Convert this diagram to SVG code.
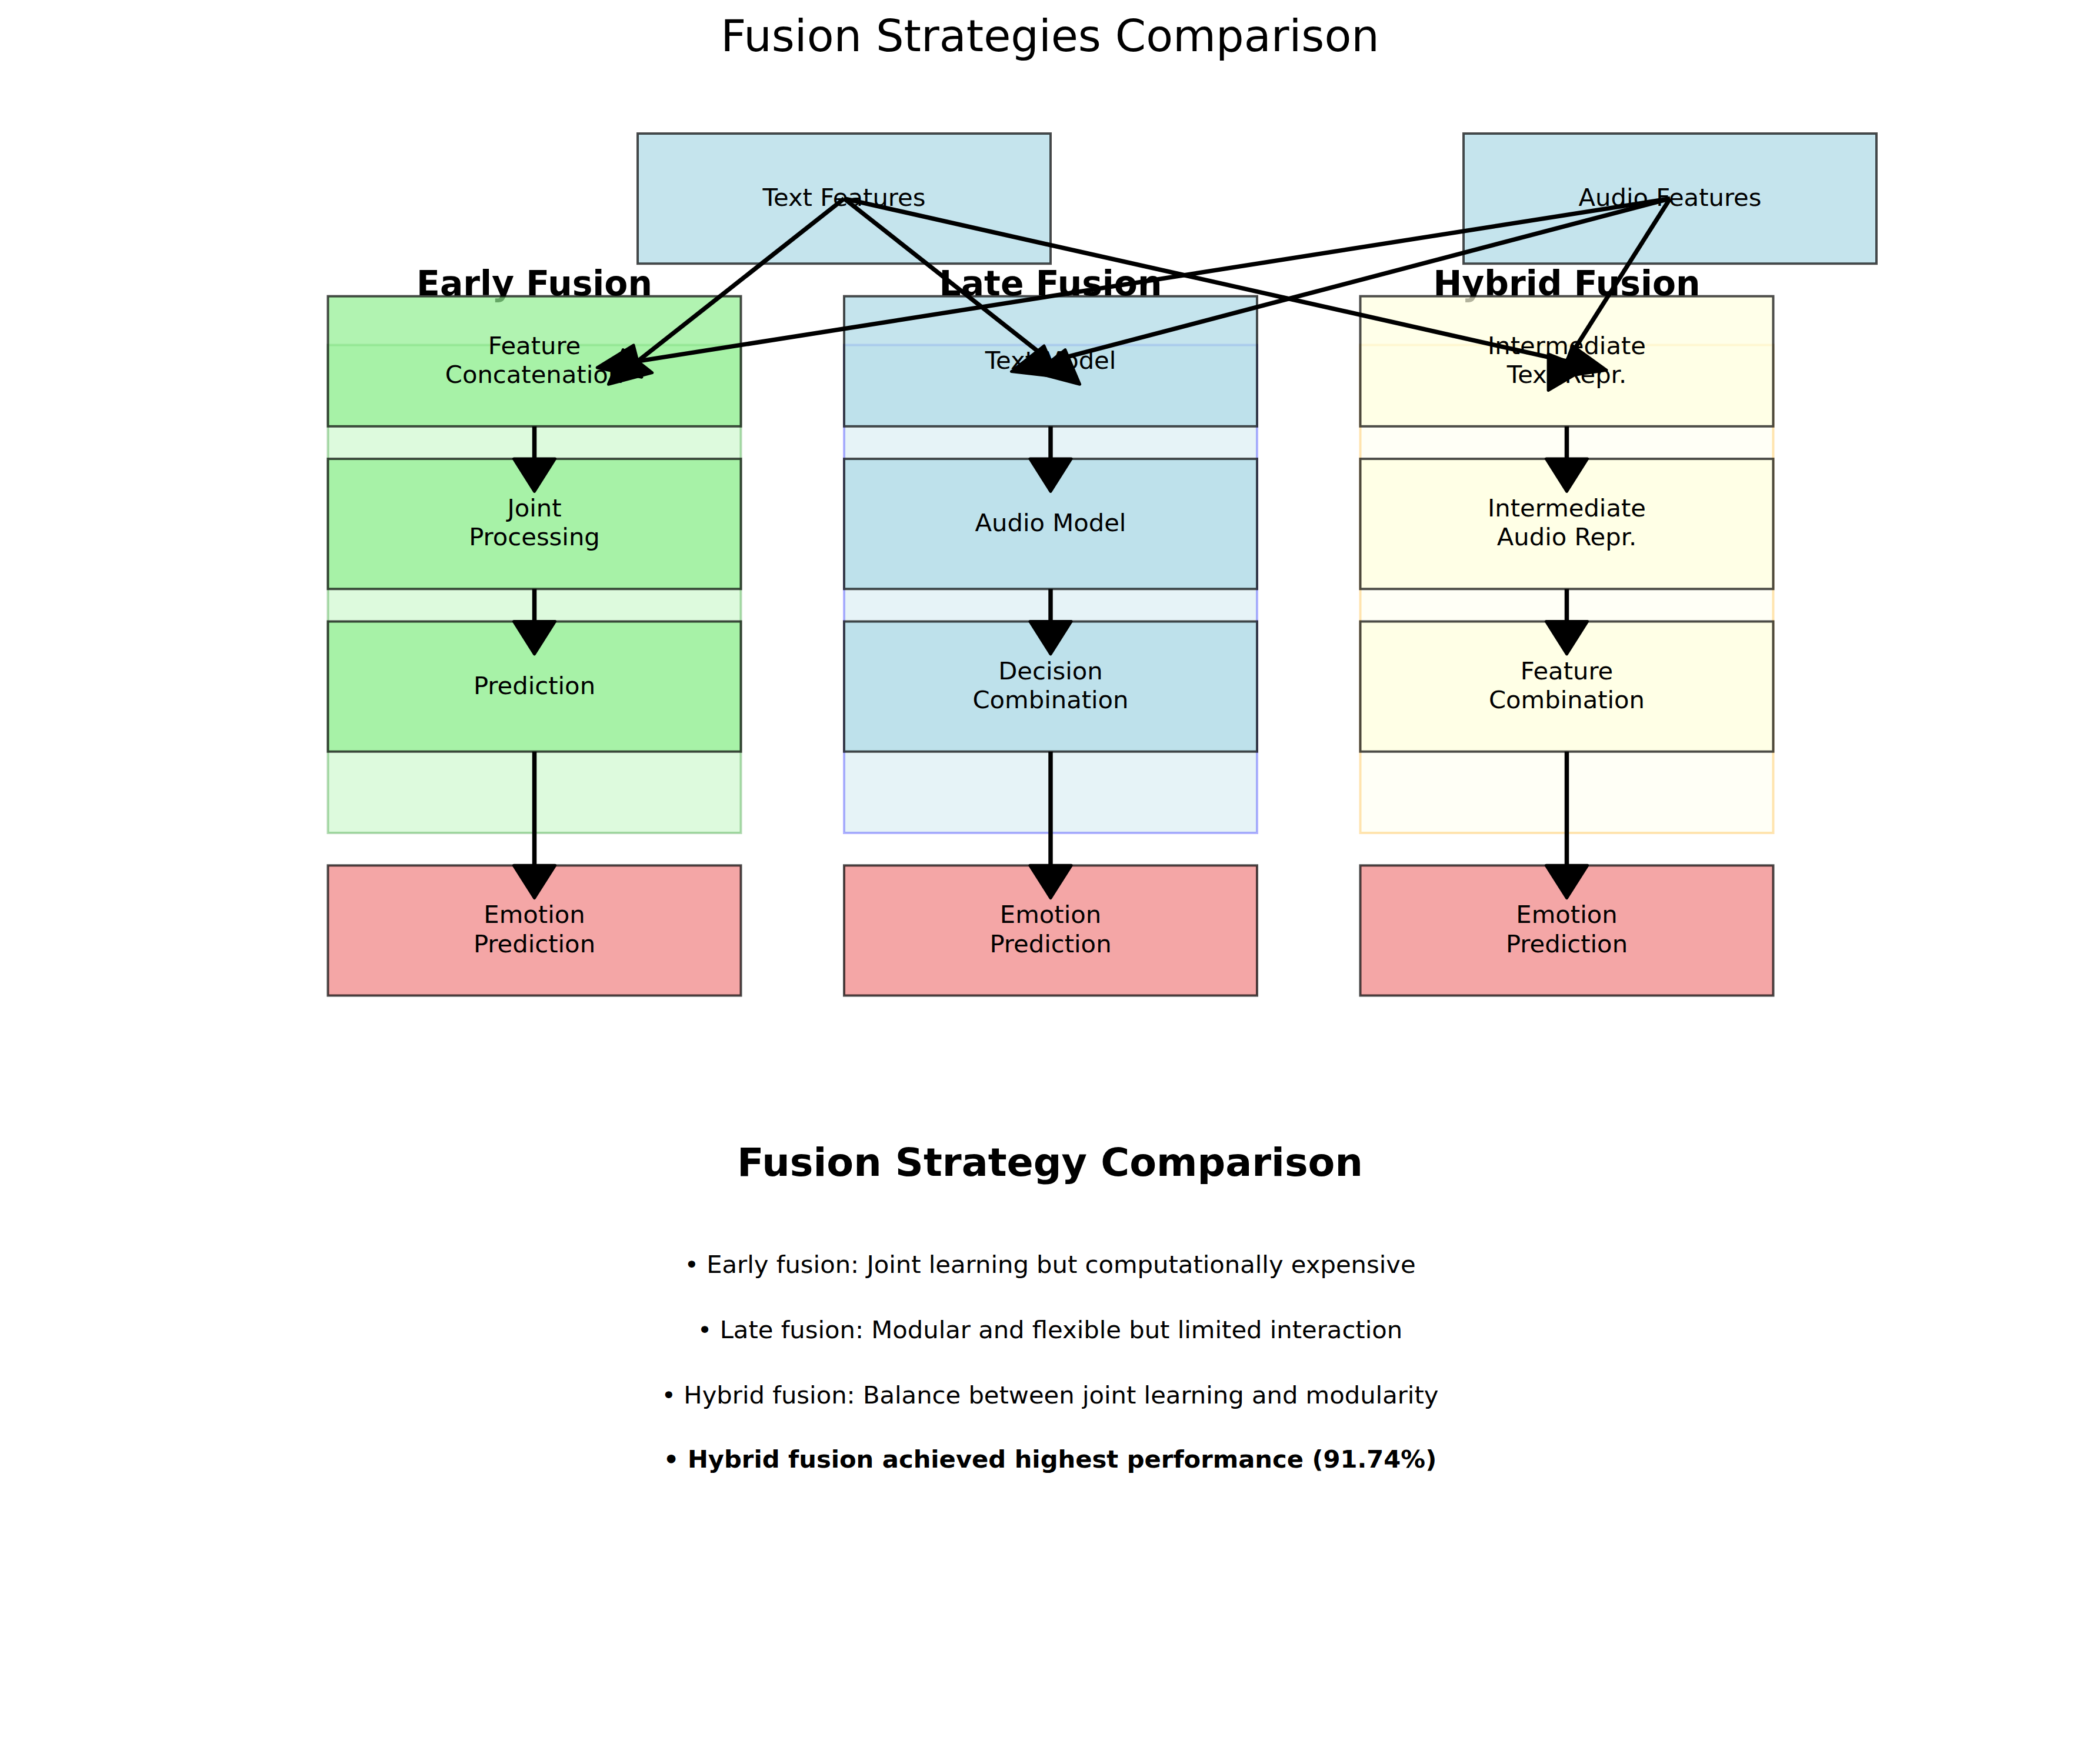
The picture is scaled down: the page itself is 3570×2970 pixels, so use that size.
<svg xmlns="http://www.w3.org/2000/svg" width="3570" height="2970" viewBox="0 0 3570 2970">
<style>
text{font-family:"DejaVu Sans","Liberation Sans",sans-serif;text-anchor:middle;fill:#000}
.lbl{font-size:41.7px}
.hdr{font-size:58.3px;font-weight:bold}
.title{font-size:75px}
.sub{font-size:66.7px;font-weight:bold}
.bul{font-size:41.7px}
.bold{font-weight:bold}
.box{stroke:#000;stroke-opacity:0.7;stroke-width:4;fill-opacity:0.7}
.bg{stroke-width:4;fill-opacity:0.3;stroke-opacity:0.3}
.blue{fill:#add8e6}
.green{fill:#90ee90}
.yellow{fill:#ffffe0}
.coral{fill:#f08080}
#connectors line{stroke:#000;stroke-width:7.5}
#connectors polygon{fill:#000;stroke:#000;stroke-width:5;stroke-linejoin:round}
</style>
<rect width="3570" height="2970" fill="#fff"/>
<text class="title" x="1785" y="87">Fusion Strategies Comparison</text>

<g id="early-bg"><rect class="bg" x="557.5" y="586.5" width="702" height="829.5" fill="#90ee90" stroke="#008000"/></g>
<g id="late-bg"><rect class="bg" x="1435" y="586.5" width="702" height="829.5" fill="#add8e6" stroke="#0000ff"/></g>
<g id="hybrid-bg"><rect class="bg" x="2312.5" y="586.5" width="702" height="829.5" fill="#ffffe0" stroke="#ffa500"/></g>

<g id="text-features"><rect class="box blue" x="1084" y="227" width="702" height="221.2"/><text class="lbl" x="1435" y="350">Text Features</text></g>
<g id="audio-features"><rect class="box blue" x="2488" y="227" width="702" height="221.2"/><text class="lbl" x="2839" y="350">Audio Features</text></g>

<g id="early-header"><text class="hdr" x="908.5" y="502">Early Fusion</text></g>
<g id="late-header"><text class="hdr" x="1786" y="502">Late Fusion</text></g>
<g id="hybrid-header"><text class="hdr" x="2663.5" y="502">Hybrid Fusion</text></g>

<g id="feature-concatenation"><rect class="box green" x="557.5" y="503.6" width="702" height="221.2"/><text class="lbl" x="908.5" y="601.6">Feature</text><text class="lbl" x="908.5" y="650.8">Concatenation</text></g>
<g id="joint-processing"><rect class="box green" x="557.5" y="780.05" width="702" height="221.2"/><text class="lbl" x="908.5" y="878">Joint</text><text class="lbl" x="908.5" y="927.2">Processing</text></g>
<g id="prediction"><rect class="box green" x="557.5" y="1056.55" width="702" height="221.2"/><text class="lbl" x="908.5" y="1179.8">Prediction</text></g>
<g id="early-emotion"><rect class="box coral" x="557.5" y="1471.3" width="702" height="221.2"/><text class="lbl" x="908.5" y="1569.3">Emotion</text><text class="lbl" x="908.5" y="1618.5">Prediction</text></g>

<g id="text-model"><rect class="box blue" x="1435" y="503.6" width="702" height="221.2"/><text class="lbl" x="1786" y="626.8">Text Model</text></g>
<g id="audio-model"><rect class="box blue" x="1435" y="780.05" width="702" height="221.2"/><text class="lbl" x="1786" y="903.3">Audio Model</text></g>
<g id="decision-combination"><rect class="box blue" x="1435" y="1056.55" width="702" height="221.2"/><text class="lbl" x="1786" y="1154.5">Decision</text><text class="lbl" x="1786" y="1203.7">Combination</text></g>
<g id="late-emotion"><rect class="box coral" x="1435" y="1471.3" width="702" height="221.2"/><text class="lbl" x="1786" y="1569.3">Emotion</text><text class="lbl" x="1786" y="1618.5">Prediction</text></g>

<g id="intermediate-text"><rect class="box yellow" x="2312.5" y="503.6" width="702" height="221.2"/><text class="lbl" x="2663.5" y="601.6">Intermediate</text><text class="lbl" x="2663.5" y="650.8">Text Repr.</text></g>
<g id="intermediate-audio"><rect class="box yellow" x="2312.5" y="780.05" width="702" height="221.2"/><text class="lbl" x="2663.5" y="878">Intermediate</text><text class="lbl" x="2663.5" y="927.2">Audio Repr.</text></g>
<g id="feature-combination"><rect class="box yellow" x="2312.5" y="1056.55" width="702" height="221.2"/><text class="lbl" x="2663.5" y="1154.5">Feature</text><text class="lbl" x="2663.5" y="1203.7">Combination</text></g>
<g id="hybrid-emotion"><rect class="box coral" x="2312.5" y="1471.3" width="702" height="221.2"/><text class="lbl" x="2663.5" y="1569.3">Emotion</text><text class="lbl" x="2663.5" y="1618.5">Prediction</text></g>

<g id="connectors">
<line x1="1435" y1="337.65" x2="1084" y2="614.15"/><polygon points="1108.8,633.7 1034.4,653.3 1059.2,594.6"/>
<line x1="2839" y1="337.65" x2="1084" y2="614.15"/><polygon points="1090.9,641.2 1015.2,625.0 1077.1,587.0"/>
<line x1="1435" y1="337.65" x2="1786" y2="614.15"/><polygon points="1810.8,594.6 1835.6,653.3 1761.2,633.7"/>
<line x1="2839" y1="337.65" x2="1786" y2="614.15"/><polygon points="1797.1,640.4 1719.4,631.6 1774.9,588.0"/>
<line x1="1435" y1="337.65" x2="2663.5" y2="614.15"/><polygon points="2673.1,587.6 2731.0,629.3 2653.9,640.7"/>
<line x1="2839" y1="337.65" x2="2663.5" y2="614.15"/><polygon points="2694.9,626.5 2632.1,663.6 2632.1,601.8"/>

<line x1="908.5" y1="724.8" x2="908.5" y2="780"/><polygon points="873.4,780 943.6,780 908.5,835.3"/>
<line x1="908.5" y1="1001.3" x2="908.5" y2="1056.5"/><polygon points="873.4,1056.5 943.6,1056.5 908.5,1111.8"/>
<line x1="908.5" y1="1277.8" x2="908.5" y2="1471.3"/><polygon points="873.4,1471.3 943.6,1471.3 908.5,1526.6"/>

<line x1="1786" y1="724.8" x2="1786" y2="780"/><polygon points="1750.9,780 1821.1,780 1786,835.3"/>
<line x1="1786" y1="1001.3" x2="1786" y2="1056.5"/><polygon points="1750.9,1056.5 1821.1,1056.5 1786,1111.8"/>
<line x1="1786" y1="1277.8" x2="1786" y2="1471.3"/><polygon points="1750.9,1471.3 1821.1,1471.3 1786,1526.6"/>

<line x1="2663.5" y1="724.8" x2="2663.5" y2="780"/><polygon points="2628.4,780 2698.6,780 2663.5,835.3"/>
<line x1="2663.5" y1="1001.3" x2="2663.5" y2="1056.5"/><polygon points="2628.4,1056.5 2698.6,1056.5 2663.5,1111.8"/>
<line x1="2663.5" y1="1277.8" x2="2663.5" y2="1471.3"/><polygon points="2628.4,1471.3 2698.6,1471.3 2663.5,1526.6"/>
</g>

<g id="summary">
<text class="sub" x="1785" y="1998.7">Fusion Strategy Comparison</text>
<text class="bul" x="1785" y="2163.5">• Early fusion: Joint learning but computationally expensive</text>
<text class="bul" x="1785" y="2275">• Late fusion: Modular and flexible but limited interaction</text>
<text class="bul" x="1785" y="2385.5">• Hybrid fusion: Balance between joint learning and modularity</text>
<text class="bul bold" x="1785" y="2495.4">• Hybrid fusion achieved highest performance (91.74%)</text>
</g>
</svg>
